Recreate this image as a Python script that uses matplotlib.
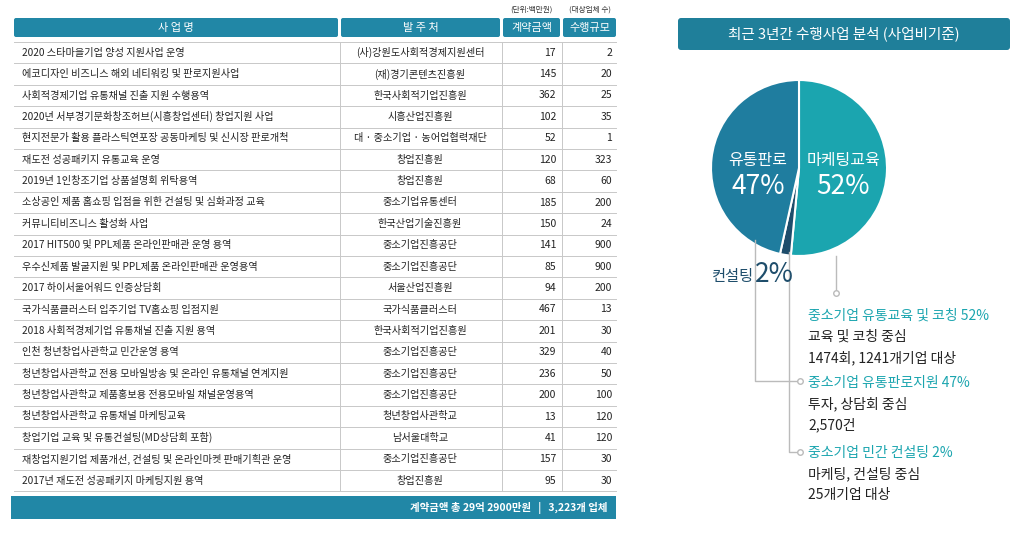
import matplotlib
matplotlib.use("Agg")
import matplotlib.pyplot as plt
from matplotlib.patches import FancyBboxPatch, Rectangle

plt.rcParams["font.family"] = ["Noto Sans CJK JP", "Noto Sans CJK KR", "Noto Sans CJK SC", "DejaVu Sans"]

projects = ["2020 스타마을기업 양성 지원사업 운영", "에코디자인 비즈니스 해외 네티워킹 및 판로지원사업",
    "사회적경제기업 유통채널 진출 지원 수행용역", "2020년 서부경기문화창조허브(시흥창업센터) 창업지원 사업",
    "현지전문가 활용 플라스틱연포장 공동마케팅 및 신시장 판로개척", "재도전 성공패키지 유통교육 운영",
    "2019년 1인창조기업 상품설명회 위탁용역", "소상공인 제품 홈쇼핑 입점을 위한 컨설팅 및 심화과정 교육",
    "커뮤니티비즈니스 활성화 사업", "2017 HIT500 및 PPL제품 온라인판매관 운영 용역",
    "우수신제품 발굴지원 및 PPL제품 온라인판매관 운영용역", "2017 하이서울어워드 인증상담회",
    "국가식품클러스터 입주기업 TV홈쇼핑 입점지원", "2018 사회적경제기업 유통채널 진출 지원 용역",
    "인천 청년창업사관학교 민간운영 용역", "청년창업사관학교 전용 모바일방송 및 온라인 유통채널 연계지원",
    "청년창업사관학교 제품홍보용 전용모바일 채널운영용역", "청년창업사관학교 유통채널 마케팅교육",
    "창업기업 교육 및 유통컨설팅(MD상담회 포함)", "재창업지원기업 제품개선, 컨설팅 및 온라인마켓 판매기획관 운영",
    "2017년 재도전 성공패키지 마케팅지원 용역"]
clients = ["(사)강원도사회적경제지원센터", "(재)경기콘텐츠진흥원", "한국사회적기업진흥원", "시흥산업진흥원",
    "대 · 중소기업 · 농어업협력재단", "창업진흥원", "창업진흥원", "중소기업유통센터", "한국산업기술진흥원",
    "중소기업진흥공단", "중소기업진흥공단", "서울산업진흥원", "국가식품클러스터", "한국사회적기업진흥원",
    "중소기업진흥공단", "중소기업진흥공단", "중소기업진흥공단", "청년창업사관학교", "남서울대학교",
    "중소기업진흥공단", "창업진흥원"]
amounts = [17, 145, 362, 102, 52, 120, 68, 185, 150, 141, 85, 94, 467, 201, 329, 236, 200, 13, 41, 157, 95]
scales = [2, 20, 25, 35, 1, 323, 60, 200, 24, 900, 900, 200, 13, 30, 40, 50, 100, 120, 120, 30, 30]
headers = ["사 업 명", "발 주 처", "계약금액", "수행규모"]
pie_labels = ["마케팅교육", "컨설팅", "유통판로"]
pie_values = [52, 2, 47]

TEAL = "#1ba5af"; BLUE = "#1f7d9f"; DARK = "#1e4d6b"; HEAD = "#2187a6"

fig = plt.figure(figsize=(10.24, 5.33), dpi=100)
ax = fig.add_axes([0, 0, 1, 1])

# pie
ax.pie(pie_values, colors=[TEAL, DARK, BLUE], center=(799, 168), radius=88,
       startangle=-90, counterclock=True, wedgeprops=dict(edgecolor="white", linewidth=1.5))
ax.set_xlim(0, 1024); ax.set_ylim(533, 0); ax.axis("off")

# table
cols = [(14, 338), (341, 500), (503, 560), (563, 616)]
for (a, b), h in zip(cols, headers):
    ax.add_patch(FancyBboxPatch((a, 18), b - a, 19, boxstyle="round,pad=0,rounding_size=2", fc=HEAD, ec="none"))
    ax.text((a + b) / 2, 27.5, h, color="white", ha="center", va="center", fontsize=8)
ax.text(531, 10, "(단위:백만원)", fontsize=5.5, ha="center", va="center", color="#333")
ax.text(590, 10, "(대상업체 수)", fontsize=5.5, ha="center", va="center", color="#333")
top, rh = 42, 21.4
for i in range(len(projects)):
    y = top + rh * (i + 0.5)
    ax.text(22, y, projects[i], fontsize=7.3, va="center", color="#222")
    ax.text(420, y, clients[i], fontsize=7.3, va="center", ha="center", color="#222")
    ax.text(556, y, str(amounts[i]), fontsize=7.5, va="center", ha="right", color="#222")
    ax.text(612, y, str(scales[i]), fontsize=7.5, va="center", ha="right", color="#222")
    ax.plot([14, 616], [top + rh * (i + 1)] * 2, color="#c8c8c8", lw=0.7)
ax.plot([14, 616], [top, top], color="#c8c8c8", lw=0.7)
for x in (339.5, 501.5, 561.5):
    ax.plot([x, x], [top, top + rh * len(projects)], color="#c8c8c8", lw=0.7)
ax.add_patch(Rectangle((11, 496), 605, 23, fc=HEAD, ec="none"))
ax.text(608, 507.5, "계약금액 총 29억 2900만원   |   3,223개 업체", color="white", fontsize=7.5,
        ha="right", va="center", fontweight="bold")

# right title
ax.add_patch(FancyBboxPatch((678, 18), 332, 32, boxstyle="round,pad=0,rounding_size=3", fc="#1f7f9a", ec="none"))
ax.text(844, 34, "최근 3년간 수행사업 분석 (사업비기준)", color="white", fontsize=10.5, ha="center", va="center")

# pie labels
ax.text(758, 160, "유통판로", color="white", fontsize=11.5, ha="center", va="center")
ax.text(758, 186, "47%", color="white", fontsize=19, ha="center", va="center")
ax.text(843, 160, "마케팅교육", color="white", fontsize=11.5, ha="center", va="center")
ax.text(843, 186, "52%", color="white", fontsize=19, ha="center", va="center")
ax.text(754, 277, "컨설팅", color=DARK, fontsize=11, ha="right", va="center")
ax.text(755, 274, "2%", color=DARK, fontsize=19, ha="left", va="center")

# callout lines
lc = "#bbbbbb"
ax.plot([836, 836], [256, 290], color=lc, lw=1)
ax.plot([755, 755, 797], [240, 381, 381], color=lc, lw=1)
ax.plot([789, 789, 797], [252, 452, 452], color=lc, lw=1)
for (cx, cy) in [(836, 293), (800, 381), (800, 452)]:
    ax.plot(cx, cy, "o", ms=4, mfc="white", mec=lc, mew=1)

groups = [(316, "중소기업 유통교육 및 코칭 52%", ["교육 및 코칭 중심", "1474회, 1241개기업 대상"]),
          (383, "중소기업 유통판로지원 47%", ["투자, 상담회 중심", "2,570건"]),
          (453, "중소기업 민간 컨설팅 2%", ["마케팅, 컨설팅 중심", "25개기업 대상"])]
for y, t, lines in groups:
    ax.text(808, y, t, color=TEAL, fontsize=10, va="center")
    for k, l in enumerate(lines):
        ax.text(808, y + 21 * (k + 1), l, color="#222", fontsize=10, va="center")

fig.savefig("out.png", dpi=100)
